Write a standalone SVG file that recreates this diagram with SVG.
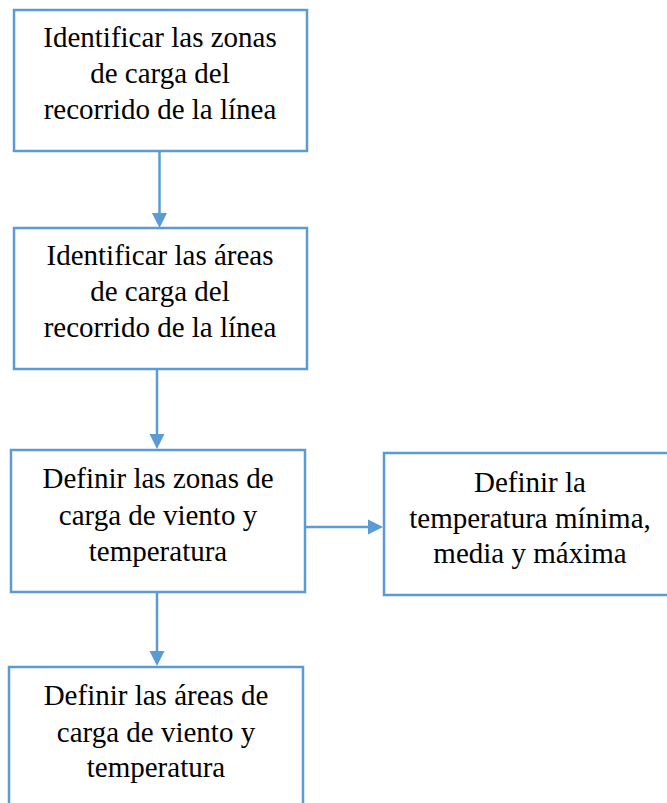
<svg xmlns="http://www.w3.org/2000/svg" width="667" height="803" viewBox="0 0 667 803">
<style>
.box{fill:#fff;stroke:#5B9BD5;stroke-width:2.5}
.t{font-family:"Liberation Serif","Times New Roman",serif;font-size:29px;fill:#000;text-anchor:middle}
.c{stroke:#5B9BD5;stroke-width:2.5;fill:none}
.ah{fill:#5B9BD5}
</style>
<rect width="667" height="803" fill="#fff"/>
<g id="connectors">
<line class="c" x1="159.5" y1="151" x2="159.5" y2="215"/>
<polygon class="ah" points="152,213 167,213 159.5,228"/>
<line class="c" x1="157" y1="369" x2="157" y2="436"/>
<polygon class="ah" points="149.5,434 164.5,434 157,449"/>
<line class="c" x1="305" y1="527" x2="370" y2="527"/>
<polygon class="ah" points="368,519.5 368,534.5 383,527"/>
<line class="c" x1="157" y1="592" x2="157" y2="653"/>
<polygon class="ah" points="149.5,651 164.5,651 157,666"/>
</g>
<g id="n1">
<rect class="box" x="14" y="10" width="293" height="141"/>
<text class="t" x="160" y="47">Identificar las zonas</text>
<text class="t" x="160" y="83">de carga del</text>
<text class="t" x="160" y="119">recorrido de la línea</text>
</g>
<g id="n2">
<rect class="box" x="14" y="228" width="293" height="141"/>
<text class="t" x="160" y="265">Identificar las áreas</text>
<text class="t" x="160" y="301">de carga del</text>
<text class="t" x="160" y="337">recorrido de la línea</text>
</g>
<g id="n3">
<rect class="box" x="11" y="450" width="294" height="142"/>
<text class="t" x="158" y="488">Definir las zonas de</text>
<text class="t" x="158" y="525">carga de viento y</text>
<text class="t" x="158" y="561">temperatura</text>
</g>
<g id="n4">
<rect class="box" x="384" y="453" width="292" height="142"/>
<text class="t" x="530" y="492">Definir la</text>
<text class="t" x="530" y="528">temperatura mínima,</text>
<text class="t" x="530" y="563">media y máxima</text>
</g>
<g id="n5">
<rect class="box" x="9" y="667" width="294" height="150"/>
<text class="t" x="156" y="705">Definir las áreas de</text>
<text class="t" x="156" y="742">carga de viento y</text>
<text class="t" x="156" y="777">temperatura</text>
</g>
</svg>
